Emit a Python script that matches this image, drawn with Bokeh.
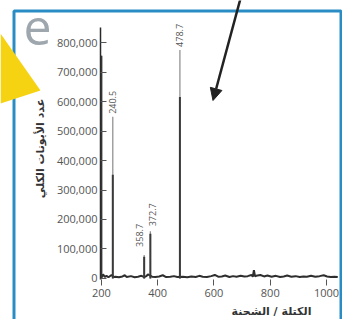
import math
from bokeh.plotting import figure
from bokeh.models import (Range1d, NumeralTickFormatter, FixedTicker, ColumnDataSource,
                          LabelSet, Label, BoxAnnotation, PolyAnnotation, Arrow, NormalHead)
from bokeh.core.properties import value
from bokeh.embed import file_html
from bokeh.resources import INLINE

# ---- data ----
peak_mz = [200, 240.5, 352, 374, 479]
peak_top = [755000, 548000, 80000, 160000, 775000]
peak_body = [755000, 352000, 74000, 152000, 615000]
peak_labels = ["", "240.5", "358.7", "372.7", "478.7"]

noise_mz = [200, 206, 212, 218, 225, 236, 244, 250, 262, 275, 283, 290, 305, 318, 330, 342,
            352, 360, 365, 380, 392, 405, 418, 430, 445, 458, 470, 490, 505, 520, 535,
            548, 560, 575, 590, 603, 615, 628, 640, 655, 668, 680, 695, 708, 720, 733,
            738, 742, 746, 750, 765, 778, 790, 805, 820, 835, 848, 860, 875, 890, 905,
            918, 930, 945, 960, 975, 990, 1002, 1015, 1028, 1040]
noise_int = [3000, 14000, 5000, 9000, 4000, 12000, 5000, 6000, 4000, 7000, 11000, 5000,
             8000, 4000, 6000, 9000, 5000, 8000, 14000, 6000, 5000, 7000, 11000, 5000, 6000,
             8000, 5000, 6000, 4000, 7000, 5000, 9000, 6000, 5000, 8000, 12000, 6000, 7000,
             10000, 5000, 8000, 6000, 9000, 7000, 8000, 12000, 6000, 28000, 7000, 9000,
             12000, 7000, 10000, 6000, 9000, 5000, 7000, 10000, 6000, 8000, 5000, 7000,
             6000, 9000, 6000, 8000, 11000, 7000, 5000, 6000, 5000]

x_ticks = [200, 400, 600, 800, 1000]
y_ticks = [0, 100000, 200000, 300000, 400000, 500000, 600000, 700000, 800000]

y_title = "عدد الأيونات الكلي"
x_title = "الكتلة / الشحنة"
panel_letter = "e"

# ---- figure: the frame fills the canvas, axes are drawn at fixed data locations ----
X0 = 196.8          # left end of the spectrum axis
Y0 = -5000          # level of the m/z axis
p = figure(width=342, height=319, x_range=Range1d(-158.6, 1056.8), y_range=Range1d(-139000, 942400),
           output_backend="svg", toolbar_location=None,
           min_border_left=0, min_border_right=0, min_border_top=0, min_border_bottom=0)
p.grid.visible = False
p.outline_line_color = None
p.background_fill_color = "white"
p.border_fill_color = "white"

p.xaxis.fixed_location = Y0
p.yaxis.fixed_location = X0
p.xaxis.bounds = (X0, 1040)
p.yaxis.bounds = (-4000, 850000)
p.xaxis.ticker = FixedTicker(ticks=x_ticks)
p.yaxis.ticker = FixedTicker(ticks=y_ticks)
p.yaxis.formatter = NumeralTickFormatter(format="0,0")
for ax in (p.xaxis, p.yaxis):
    ax.minor_tick_line_color = None
    ax.major_label_text_font = "Open Sans"
    ax.major_label_text_font_size = "11px"
    ax.major_label_text_color = "#555555"
    ax.major_tick_line_color = "#555555"
p.xaxis.axis_line_color = None
p.xaxis.major_tick_in = 0
p.xaxis.major_tick_out = 6
p.xaxis.major_label_standoff = 3
p.yaxis.axis_line_color = "#2a2a2a"
p.yaxis.axis_line_width = 1.5
p.yaxis.major_tick_in = 6
p.yaxis.major_tick_out = 0
p.yaxis.major_label_standoff = 3

# baseline noise
p.line(noise_mz, noise_int, line_color="#2e2e2e", line_width=2)

# peaks: thin tip and thick body
src = ColumnDataSource(dict(mz=peak_mz, top=peak_top, body=peak_body,
                            zero=[0] * len(peak_mz)))
p.segment(x0="mz", y0="zero", x1="mz", y1="top", source=src, line_color="#8a8a8a", line_width=1.2)
p.segment(x0="mz", y0="zero", x1="mz", y1="body", source=src, line_color="#3a3a3a", line_width=2)

lab_src = ColumnDataSource(dict(
    mz=[m for m, l in zip(peak_mz, peak_labels) if l],
    top=[t for t, l in zip(peak_top, peak_labels) if l],
    lab=[l for l in peak_labels if l],
    dx=[0, -5, 2, 0],
    dy=[3, 8, 5, 3]))
p.add_layout(LabelSet(x="mz", y="top", text="lab", source=lab_src, angle=math.pi / 2,
                      x_offset="dx", y_offset="dy",
                      text_align="left", text_baseline="middle",
                      text_font=value("Open Sans"), text_font_size=value("9px"),
                      text_color="#555555"))

# decorations: blue frame, yellow triangle, letter, arrow
p.add_layout(BoxAnnotation(left=13.5, right=340.5, top=10.5, bottom=400, left_units="canvas",
                           right_units="canvas", top_units="canvas", bottom_units="canvas",
                           fill_alpha=0, fill_color=None, line_color="#2a8cc4", line_width=3,
                           line_alpha=1))
p.add_layout(PolyAnnotation(xs=[0, 40, 0], ys=[33, 90, 103], xs_units="canvas", ys_units="canvas",
                            fill_color="#f6d312", fill_alpha=1, line_color=None))
p.add_layout(Label(x=23, y=27, x_units="canvas", y_units="canvas", text=panel_letter,
                   text_align="left", text_baseline="alphabetic", text_font="Open Sans",
                   text_font_size="50px", text_color="#9ea7ad"))
p.add_layout(Arrow(x_start=240, y_start=-2, x_end=212.5, y_end=100, start_units="canvas",
                   end_units="canvas", line_color="#222222", line_width=2.5,
                   end=NormalHead(size=12, fill_color="#222222", line_color="#222222")))

# axis titles
p.add_layout(Label(x=40, y=148, x_units="canvas", y_units="canvas", text=y_title,
                   angle=math.pi / 2, text_align="center", text_baseline="middle",
                   text_font="DejaVu Sans", text_font_size="11px", text_font_style="bold",
                   text_color="#333333"))
p.add_layout(Label(x=271, y=311, x_units="canvas", y_units="canvas", text=x_title,
                   text_align="center", text_baseline="middle",
                   text_font="DejaVu Sans", text_font_size="11px", text_font_style="bold",
                   text_color="#333333"))

open("out.html", "w").write(file_html(p, INLINE))
